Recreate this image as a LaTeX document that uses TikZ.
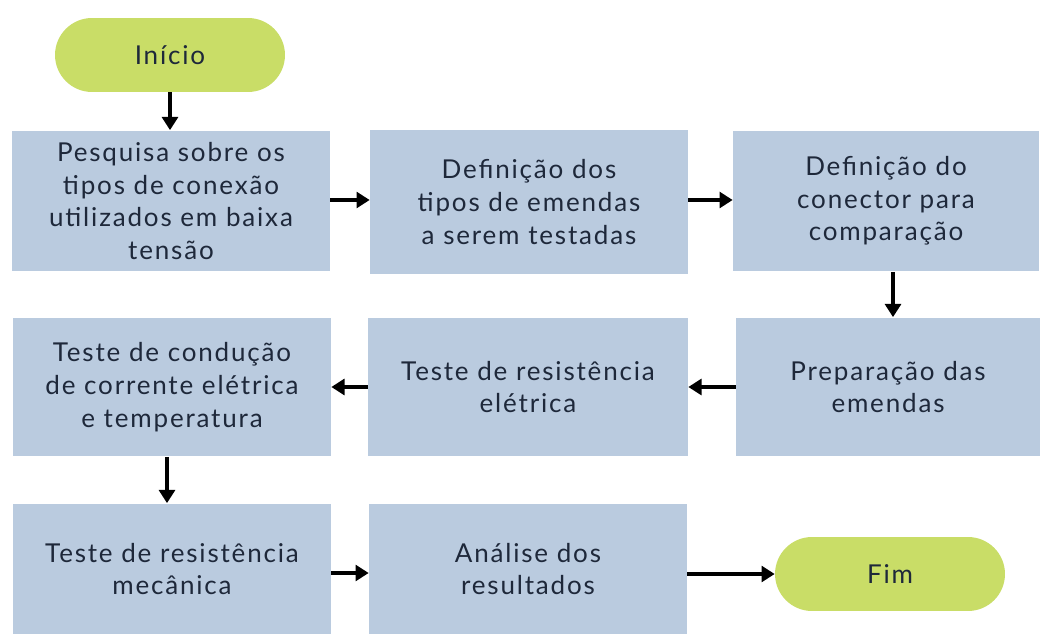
\documentclass[tikz,border=0pt]{standalone}
\usepackage{fontspec}
\setmainfont[LetterSpace=7]{Lato}
\usetikzlibrary{positioning,arrows.meta,shapes}
\definecolor{caixaAzul}{RGB}{186,203,223}
\definecolor{pilulaVerde}{RGB}{201,221,103}
\definecolor{textoEscuro}{RGB}{30,40,58}

\begin{document}
\begin{tikzpicture}
      [x=0.02cm, y=-0.02cm, font=\fontsize{14.8}{18.6}\selectfont, text=textoEscuro,
      % STYLES
      % The etapa style is used for each step of the method
      etapa/.style={rectangle, fill=caixaAzul, inner sep=4pt, text width=6cm, align=center, minimum width=6.36cm},
      % The terminal style is used for the start and end
      terminal/.style={rectangle, rounded corners=0.74cm, fill=pilulaVerde, minimum width=4.6cm, minimum height=1.48cm, align=center},
      % The seta style is used for the links
      seta/.style={-{Triangle[length=7.5pt,width=9pt]}, line width=2.2pt, black}]

      \useasboundingbox (0,0) rectangle (1040,634);

      % Draw terminals
      \node [terminal] (inicio) at (170,55) {Início};
      \node [terminal] (fim) at (890,574) {Fim};

      % Draw steps
      \node [etapa, minimum height=2.82cm] (pesquisa) at (171,201) {Pesquisa sobre os\\ tipos de conexão\\ utilizados em baixa\\ tensão};
      \node [etapa, minimum height=2.88cm] (tiposEmendas) at (529,202) {Definição dos\\ tipos de emendas\\ a serem testadas};
      \node [etapa, minimum height=2.82cm, minimum width=6.12cm, text width=5.8cm] (conector) at (886,201) {Definição do\\ conector para\\ comparação};
      \node [etapa, minimum height=2.78cm, minimum width=6.06cm, text width=5.8cm] (preparacao) at (888,387) {Preparação das\\ emendas};
      \node [etapa, minimum height=2.78cm, minimum width=6.4cm] (resistEletrica) at (528,387) {Teste de resistência\\ elétrica};
      \node [etapa, minimum height=2.78cm] (conducao) at (172,387) {Teste de condução\\ de corrente elétrica\\ e temperatura};
      \node [etapa, minimum height=2.62cm] (resistMecanica) at (172,569) {Teste de resistência\\ mecânica};
      \node [etapa, minimum height=2.62cm] (analise) at (528,569) {Análise dos\\ resultados};

      % Draw the links between steps
      \draw [seta] (inicio) -- (inicio |- pesquisa.north);
      \draw [seta] (pesquisa.east |- 0,200) -- (tiposEmendas.west |- 0,200);
      \draw [seta] (tiposEmendas.east |- 0,200) -- (conector.west |- 0,200);
      \draw [seta] (conector.south -| 893,0) -- (preparacao.north -| 893,0);
      \draw [seta] (preparacao) -- (resistEletrica);
      \draw [seta] (resistEletrica) -- (conducao);
      \draw [seta] (conducao.south -| 167,0) -- (resistMecanica.north -| 167,0);
      \draw [seta] (resistMecanica.east |- 0,573) -- (analise.west |- 0,573);
      \draw [seta] (analise.east |- fim) -- (fim);

    \end{tikzpicture}
\end{document}
